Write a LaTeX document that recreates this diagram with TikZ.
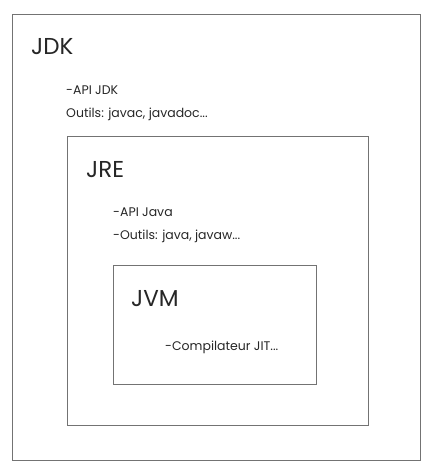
\documentclass[tikz,border=0pt]{standalone}
\usepackage{fontspec}
\setmainfont{Poppins}
\usepackage{tikz}

\begin{document}
\begin{tikzpicture}[x=1pt,y=-1pt,
  box/.style={draw=black!55, line width=0.9pt},
  title/.style={anchor=base west, inner sep=0pt, font=\fontsize{23}{27}\selectfont, text=black!85},
  item/.style={anchor=base west, inner sep=0pt, font=\fontsize{12.5}{15}\selectfont, text=black!85}]
\useasboundingbox (0,0) rectangle (432,470) ;
% boites
\draw[box] (12.5,14) rectangle (420.5,460) ;
\draw[box] (67,136) rectangle (368,425) ;
\draw[box] (113,265) rectangle (316,384) ;
% JDK
\node[title] (jdk) at (31,55) {JDK} ;
\node[item] (apijdk) at (66,95) {-API JDK} ;
\node[item] (outjdk) at (66,118) {Outils: javac, javadoc...} ;
% JRE
\node[title] (jre) at (86,178) {JRE} ;
\node[item] (apijava) at (113,216) {-API Java} ;
\node[item] (outjre) at (113,239) {-Outils: java, javaw...} ;
% JVM
\node[title] (jvm) at (131,306) {JVM} ;
\node[item] (jit) at (165,350) {-Compilateur JIT...} ;
\end{tikzpicture}
\end{document}
